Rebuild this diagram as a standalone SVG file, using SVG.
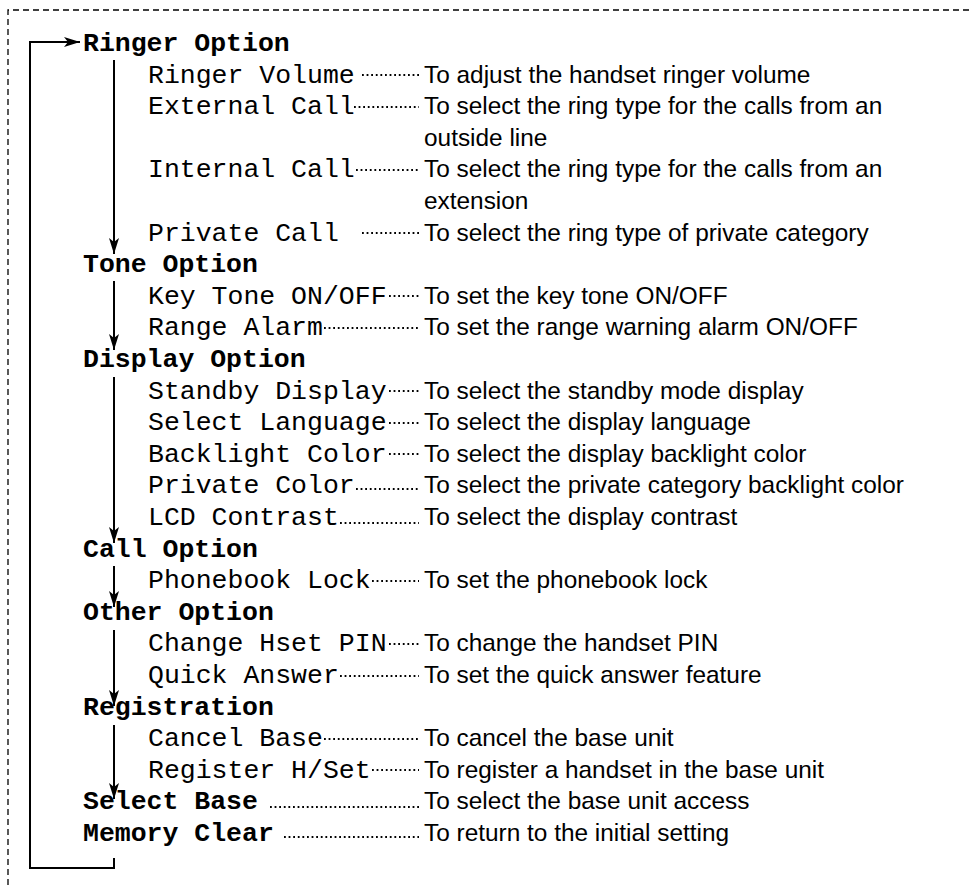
<svg xmlns="http://www.w3.org/2000/svg" width="969" height="885" viewBox="0 0 969 885">
<style>
.h{font-family:"Liberation Mono","Courier New",monospace;font-weight:bold;font-size:26.5px;fill:#000}
.s{font-family:"Liberation Mono","Courier New",monospace;font-size:26.5px;fill:#000}
.d{font-family:"Liberation Sans",Arial,sans-serif;font-size:24.4px;fill:#000}
.dot{stroke:#000;stroke-width:1.8;stroke-dasharray:1.8 2.8;fill:none}
.ln{stroke:#000;stroke-width:2;fill:none}
.border{stroke:#000;stroke-width:1.3;stroke-dasharray:6 4;fill:none}
</style>
<defs>
<marker id="ah" viewBox="0 0 16 10" refX="16" refY="5" markerWidth="16" markerHeight="10" markerUnits="userSpaceOnUse" orient="auto">
<path d="M0,0 L16,5 L0,10 L4,5 Z" fill="#000"/>
</marker>
</defs>
<rect width="969" height="885" fill="#fff"/>
<path class="border" d="M8,885 V10 H969"/>

<g id="connectors">
<path class="ln" d="M114,858 V868 H30 V42 H80" marker-end="url(#ah)"/>
<line class="ln" x1="114" y1="60" x2="114" y2="254" marker-end="url(#ah)"/>
<line class="ln" x1="114" y1="281" x2="114" y2="350" marker-end="url(#ah)"/>
<line class="ln" x1="114" y1="377" x2="114" y2="543" marker-end="url(#ah)"/>
<line class="ln" x1="114" y1="566" x2="114" y2="607" marker-end="url(#ah)"/>
<line class="ln" x1="114" y1="630" x2="114" y2="706" marker-end="url(#ah)"/>
<line class="ln" x1="114" y1="725" x2="114" y2="799" marker-end="url(#ah)"/>
</g>

<g id="leaders">
<line class="dot" x1="362" y1="75" x2="419" y2="75"/>
<line class="dot" x1="354" y1="107" x2="419" y2="107"/>
<line class="dot" x1="356" y1="170" x2="419" y2="170"/>
<line class="dot" x1="362" y1="233" x2="419" y2="233"/>
<line class="dot" x1="389" y1="296" x2="419" y2="296"/>
<line class="dot" x1="324" y1="328" x2="419" y2="328"/>
<line class="dot" x1="389" y1="391" x2="419" y2="391"/>
<line class="dot" x1="389" y1="423" x2="419" y2="423"/>
<line class="dot" x1="389" y1="454" x2="419" y2="454"/>
<line class="dot" x1="356" y1="489" x2="419" y2="489"/>
<line class="dot" x1="340" y1="523" x2="419" y2="523"/>
<line class="dot" x1="372" y1="581" x2="419" y2="581"/>
<line class="dot" x1="389" y1="644" x2="419" y2="644"/>
<line class="dot" x1="340" y1="676" x2="419" y2="676"/>
<line class="dot" x1="324" y1="739" x2="419" y2="739"/>
<line class="dot" x1="372" y1="770" x2="419" y2="770"/>
<line class="dot" x1="270" y1="807" x2="419" y2="807"/>
<line class="dot" x1="284" y1="837" x2="419" y2="837"/>
</g>

<g id="ringer-option">
<text class="h" x="83" y="51">Ringer Option</text>
<text class="s" x="148" y="82.6">Ringer Volume</text>
<text class="d" x="424" y="82.6">To adjust the handset ringer volume</text>
<text class="s" x="148" y="114.2">External Call</text>
<text class="d" x="424" y="114.2">To select the ring type for the calls from an</text>
<text class="d" x="424" y="145.8">outside line</text>
<text class="s" x="148" y="177.4">Internal Call</text>
<text class="d" x="424" y="177.4">To select the ring type for the calls from an</text>
<text class="d" x="424" y="209">extension</text>
<text class="s" x="148" y="240.6">Private Call</text>
<text class="d" x="424" y="240.6">To select the ring type of private category</text>
</g>

<g id="tone-option">
<text class="h" x="83" y="272.2">Tone Option</text>
<text class="s" x="148" y="303.8">Key Tone ON/OFF</text>
<text class="d" x="424" y="303.8">To set the key tone ON/OFF</text>
<text class="s" x="148" y="335.4">Range Alarm</text>
<text class="d" x="424" y="335.4">To set the range warning alarm ON/OFF</text>
</g>

<g id="display-option">
<text class="h" x="83" y="367">Display Option</text>
<text class="s" x="148" y="398.6">Standby Display</text>
<text class="d" x="424" y="398.6">To select the standby mode display</text>
<text class="s" x="148" y="430.2">Select Language</text>
<text class="d" x="424" y="430.2">To select the display language</text>
<text class="s" x="148" y="461.8">Backlight Color</text>
<text class="d" x="424" y="461.8">To select the display backlight color</text>
<text class="s" x="148" y="493.4">Private Color</text>
<text class="d" x="424" y="493.4">To select the private category backlight color</text>
<text class="s" x="148" y="525">LCD Contrast</text>
<text class="d" x="424" y="525">To select the display contrast</text>
</g>

<g id="call-option">
<text class="h" x="83" y="556.6">Call Option</text>
<text class="s" x="148" y="588.2">Phonebook Lock</text>
<text class="d" x="424" y="588.2">To set the phonebook lock</text>
</g>

<g id="other-option">
<text class="h" x="83" y="619.8">Other Option</text>
<text class="s" x="148" y="651.4">Change Hset PIN</text>
<text class="d" x="424" y="651.4">To change the handset PIN</text>
<text class="s" x="148" y="683">Quick Answer</text>
<text class="d" x="424" y="683">To set the quick answer feature</text>
</g>

<g id="registration">
<text class="h" x="83" y="714.6">Registration</text>
<text class="s" x="148" y="746.2">Cancel Base</text>
<text class="d" x="424" y="746.2">To cancel the base unit</text>
<text class="s" x="148" y="777.8">Register H/Set</text>
<text class="d" x="424" y="777.8">To register a handset in the base unit</text>
</g>

<g id="select-base">
<text class="h" x="83" y="809.4">Select Base</text>
<text class="d" x="424" y="809.4">To select the base unit access</text>
</g>

<g id="memory-clear">
<text class="h" x="83" y="841">Memory Clear</text>
<text class="d" x="424" y="841">To return to the initial setting</text>
</g>
</svg>
